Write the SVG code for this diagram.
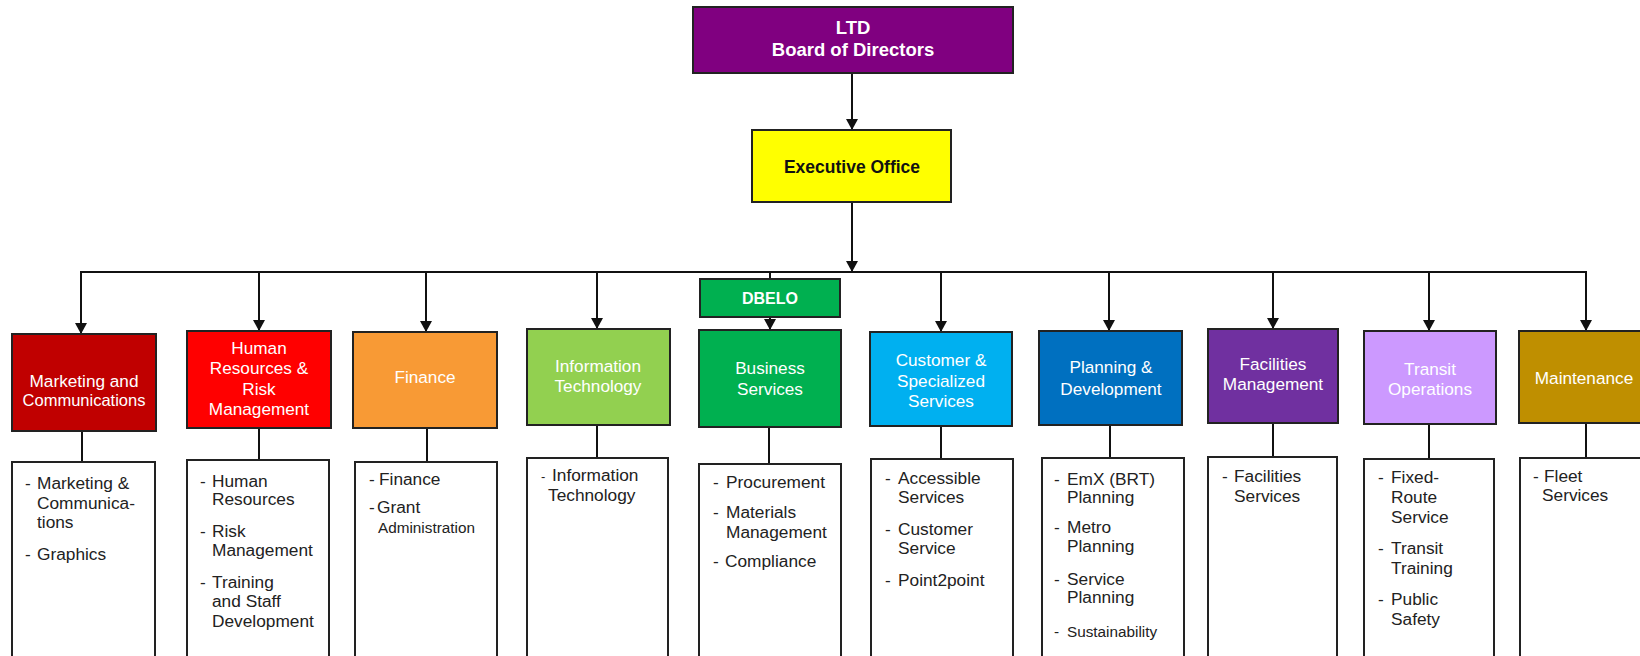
<svg xmlns="http://www.w3.org/2000/svg" width="1640" height="656" viewBox="0 0 1640 656">
<style>
.box{stroke:#222;stroke-width:2}
.wb{fill:#fff;stroke:#222;stroke-width:2}
.h{font-family:"Liberation Sans",Arial,sans-serif;font-size:17.2px;fill:#fff;text-anchor:middle}
.hb{font-family:"Liberation Sans",Arial,sans-serif;font-size:18.5px;font-weight:bold;fill:#fff;text-anchor:middle}
.l{font-family:"Liberation Sans",Arial,sans-serif;font-size:17.3px;fill:#222}
.s{font-family:"Liberation Sans",Arial,sans-serif;font-size:15.3px;fill:#222}
.c{stroke:#111;stroke-width:2;fill:none}
</style>
<defs>
<marker id="ah" markerUnits="userSpaceOnUse" markerWidth="12" markerHeight="14" refX="11" refY="6" orient="auto">
<path d="M0,0 L11,6 L0,12 Z" fill="#111"/>
</marker>
</defs>
<rect width="1640" height="656" fill="#fff"/>

<g id="connectors">
<line class="c" x1="852" y1="73" x2="852" y2="130" marker-end="url(#ah)"/>
<line class="c" x1="852" y1="202" x2="852" y2="272" marker-end="url(#ah)"/>
<line class="c" x1="80" y1="272" x2="1587" y2="272"/>
<line class="c" x1="81" y1="272" x2="81" y2="334" marker-end="url(#ah)"/>
<line class="c" x1="259" y1="272" x2="259" y2="331" marker-end="url(#ah)"/>
<line class="c" x1="426" y1="272" x2="426" y2="332" marker-end="url(#ah)"/>
<line class="c" x1="597" y1="272" x2="597" y2="329" marker-end="url(#ah)"/>
<line class="c" x1="770" y1="272" x2="770" y2="279"/>
<line class="c" x1="770" y1="317" x2="770" y2="330" marker-end="url(#ah)"/>
<line class="c" x1="941" y1="272" x2="941" y2="332" marker-end="url(#ah)"/>
<line class="c" x1="1109" y1="272" x2="1109" y2="331" marker-end="url(#ah)"/>
<line class="c" x1="1273" y1="272" x2="1273" y2="329" marker-end="url(#ah)"/>
<line class="c" x1="1429" y1="272" x2="1429" y2="331" marker-end="url(#ah)"/>
<line class="c" x1="1586" y1="272" x2="1586" y2="331" marker-end="url(#ah)"/>
<line class="c" x1="82" y1="431" x2="82" y2="462"/>
<line class="c" x1="259" y1="428" x2="259" y2="460"/>
<line class="c" x1="427" y1="428" x2="427" y2="462"/>
<line class="c" x1="597" y1="425" x2="597" y2="458"/>
<line class="c" x1="769" y1="427" x2="769" y2="464"/>
<line class="c" x1="941" y1="426" x2="941" y2="459"/>
<line class="c" x1="1110" y1="425" x2="1110" y2="458"/>
<line class="c" x1="1273" y1="423" x2="1273" y2="457"/>
<line class="c" x1="1429" y1="424" x2="1429" y2="459"/>
<line class="c" x1="1586" y1="423" x2="1586" y2="458"/>
</g>

<g id="board">
<rect class="box" x="693" y="7" width="320" height="66" fill="#800080"/>
<text class="hb" x="853" y="34">LTD</text>
<text class="hb" x="853" y="56">Board of Directors</text>
</g>

<g id="exec">
<rect class="box" x="752" y="130" width="199" height="72" fill="#FFFF00"/>
<text class="hb" x="852" y="173" style="fill:#111;font-size:17.5px">Executive Office</text>
</g>

<g id="dbelo">
<rect class="box" x="700" y="279" width="140" height="38" fill="#00B050"/>
<text class="hb" x="770" y="304" style="font-size:16px">DBELO</text>
</g>

<g id="marketing">
<rect class="box" x="12" y="334" width="144" height="97" fill="#C00000"/>
<text class="h" x="84" y="387">Marketing and</text>
<text class="h" x="84" y="406" style="font-size:16.5px">Communications</text>
<rect class="wb" x="12" y="462" width="143" height="210"/>
<text class="l"><tspan x="25" y="489">-</tspan><tspan x="37" y="489">Marketing &amp;</tspan></text>
<text class="l" x="37" y="509">Communica-</text>
<text class="l" x="37" y="528">tions</text>
<text class="l"><tspan x="25" y="560">-</tspan><tspan x="37" y="560">Graphics</tspan></text>
</g>

<g id="hr">
<rect class="box" x="187" y="331" width="144" height="97" fill="#FF0000"/>
<text class="h" x="259" y="354">Human</text>
<text class="h" x="259" y="374">Resources &amp;</text>
<text class="h" x="259" y="395">Risk</text>
<text class="h" x="259" y="415">Management</text>
<rect class="wb" x="187" y="460" width="142" height="210"/>
<text class="l"><tspan x="200" y="487">-</tspan><tspan x="212" y="487">Human</tspan></text>
<text class="l" x="212" y="505">Resources</text>
<text class="l"><tspan x="200" y="537">-</tspan><tspan x="212" y="537">Risk</tspan></text>
<text class="l" x="212" y="556">Management</text>
<text class="l"><tspan x="200" y="588">-</tspan><tspan x="212" y="588">Training</tspan></text>
<text class="l" x="212" y="607">and Staff</text>
<text class="l" x="212" y="627">Development</text>
</g>

<g id="finance">
<rect class="box" x="353" y="332" width="144" height="96" fill="#F89A35"/>
<text class="h" x="425" y="383">Finance</text>
<rect class="wb" x="355" y="462" width="142" height="210"/>
<text class="l"><tspan x="369" y="485">-</tspan><tspan x="379" y="485">Finance</tspan></text>
<text class="l"><tspan x="369" y="513">-</tspan><tspan x="377" y="513">Grant</tspan></text>
<text class="s" x="378" y="533">Administration</text>
</g>

<g id="it">
<rect class="box" x="527" y="329" width="143" height="96" fill="#92D050"/>
<text class="h" x="598" y="372">Information</text>
<text class="h" x="598" y="392">Technology</text>
<rect class="wb" x="527" y="458" width="141" height="214"/>
<text class="l"><tspan x="541" y="481" style="font-size:13px">-</tspan><tspan x="552" y="481">Information</tspan></text>
<text class="l" x="548" y="501">Technology</text>
</g>

<g id="business">
<rect class="box" x="699" y="330" width="142" height="97" fill="#00B050"/>
<text class="h" x="770" y="374">Business</text>
<text class="h" x="770" y="395">Services</text>
<rect class="wb" x="699" y="464" width="142" height="210"/>
<text class="l"><tspan x="713" y="488">-</tspan><tspan x="726" y="488">Procurement</tspan></text>
<text class="l"><tspan x="713" y="518">-</tspan><tspan x="726" y="518">Materials</tspan></text>
<text class="l" x="726" y="538">Management</text>
<text class="l"><tspan x="713" y="567">-</tspan><tspan x="725" y="567">Compliance</tspan></text>
</g>

<g id="customer">
<rect class="box" x="870" y="332" width="142" height="94" fill="#00B0F0"/>
<text class="h" x="941" y="366">Customer &amp;</text>
<text class="h" x="941" y="387">Specialized</text>
<text class="h" x="941" y="407">Services</text>
<rect class="wb" x="871" y="459" width="142" height="214"/>
<text class="l"><tspan x="885" y="484">-</tspan><tspan x="898" y="484">Accessible</tspan></text>
<text class="l" x="898" y="503">Services</text>
<text class="l"><tspan x="885" y="535">-</tspan><tspan x="898" y="535">Customer</tspan></text>
<text class="l" x="898" y="554">Service</text>
<text class="l"><tspan x="885" y="586">-</tspan><tspan x="898" y="586">Point2point</tspan></text>
</g>

<g id="planning">
<rect class="box" x="1039" y="331" width="143" height="94" fill="#0070C0"/>
<text class="h" x="1111" y="373">Planning &amp;</text>
<text class="h" x="1111" y="395">Development</text>
<rect class="wb" x="1042" y="458" width="142" height="214"/>
<text class="l"><tspan x="1054" y="485">-</tspan><tspan x="1067" y="485">EmX (BRT)</tspan></text>
<text class="l" x="1067" y="503">Planning</text>
<text class="l"><tspan x="1054" y="533">-</tspan><tspan x="1067" y="533">Metro</tspan></text>
<text class="l" x="1067" y="552">Planning</text>
<text class="l"><tspan x="1054" y="585">-</tspan><tspan x="1067" y="585">Service</tspan></text>
<text class="l" x="1067" y="603">Planning</text>
<text class="s"><tspan x="1054" y="637">-</tspan><tspan x="1067" y="637">Sustainability</tspan></text>
</g>

<g id="facilities">
<rect class="box" x="1208" y="329" width="130" height="94" fill="#7030A0"/>
<text class="h" x="1273" y="370">Facilities</text>
<text class="h" x="1273" y="390">Management</text>
<rect class="wb" x="1208" y="457" width="129" height="214"/>
<text class="l"><tspan x="1222" y="482">-</tspan><tspan x="1234" y="482">Facilities</tspan></text>
<text class="l" x="1234" y="502">Services</text>
</g>

<g id="transit">
<rect class="box" x="1364" y="331" width="132" height="93" fill="#CC99FF"/>
<text class="h" x="1430" y="375">Transit</text>
<text class="h" x="1430" y="395">Operations</text>
<rect class="wb" x="1364" y="459" width="130" height="214"/>
<text class="l"><tspan x="1378" y="483">-</tspan><tspan x="1391" y="483">Fixed-</tspan></text>
<text class="l" x="1391" y="503">Route</text>
<text class="l" x="1391" y="523">Service</text>
<text class="l"><tspan x="1378" y="554">-</tspan><tspan x="1391" y="554">Transit</tspan></text>
<text class="l" x="1391" y="574">Training</text>
<text class="l"><tspan x="1378" y="605">-</tspan><tspan x="1391" y="605">Public</tspan></text>
<text class="l" x="1391" y="625">Safety</text>
</g>

<g id="maintenance">
<rect class="box" x="1519" y="331" width="140" height="92" fill="#BF8F00"/>
<text class="h" x="1584" y="384">Maintenance</text>
<rect class="wb" x="1520" y="458" width="140" height="214"/>
<text class="l"><tspan x="1533" y="482">-</tspan><tspan x="1544" y="482">Fleet</tspan></text>
<text class="l" x="1542" y="501">Services</text>
</g>
</svg>
